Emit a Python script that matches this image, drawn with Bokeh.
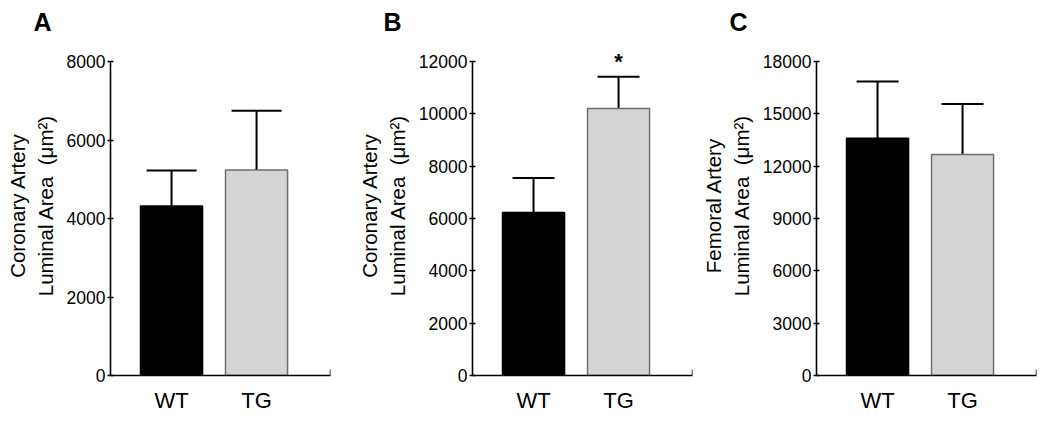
import math
from bokeh.plotting import figure
from bokeh.models import (Range1d, FixedTicker, Whisker, TeeHead, Label, Arrow,
                          ColumnDataSource, NumeralTickFormatter)
from bokeh.layouts import row
from bokeh.embed import file_html
from bokeh.resources import INLINE

# ---------------- data ----------------
groups = ["WT", "TG"]
panel_letters = ["A", "B", "C"]
y_titles = ["Coronary Artery\nLuminal Area \u00a0(\u03bcm\u00b2)",
            "Coronary Artery\nLuminal Area \u00a0(\u03bcm\u00b2)",
            "Femoral Artery\nLuminal Area \u00a0(\u03bcm\u00b2)"]

means_a = [4320, 5235]
sd_a = [900, 1510]
means_b = [6230, 10200]
sd_b = [1315, 1220]
means_c = [13600, 12670]
sd_c = [3260, 2900]

ticks_a = [0, 2000, 4000, 6000, 8000]
ticks_b = [0, 2000, 4000, 6000, 8000, 10000, 12000]
ticks_c = [0, 3000, 6000, 9000, 12000, 15000, 18000]

sig_a = ["", ""]
sig_b = ["", "*"]
sig_c = ["", ""]

bar_fill = ["#000000", "#d4d4d4"]
bar_line = ["#000000", "#6e6e6e"]

FONT = "Liberation Sans"
X0, X1 = 0.282, 2.870
FRAME_W, AXIS_H, EXT = 220, 314, 26


def panel(idx, means, sds, ticks, sig, left, right, cap, letter_off):
    xs = [1, 2]
    ymax = ticks[-1]
    ytop = ymax * (AXIS_H + EXT) / AXIS_H
    p = figure(frame_width=FRAME_W, frame_height=AXIS_H + EXT,
               x_range=Range1d(X0, X1), y_range=Range1d(0, ytop),
               output_backend="svg", toolbar_location=None,
               min_border_left=left, min_border_right=right,
               min_border_top=61 - EXT, min_border_bottom=42)
    p.grid.visible = False
    p.outline_line_color = None
    p.background_fill_color = "white"
    p.border_fill_color = "white"

    src = ColumnDataSource(dict(x=xs, mean=means,
                                upper=[m + s for m, s in zip(means, sds)],
                                fill=bar_fill, line=bar_line, label=groups,
                                sig=sig))
    p.vbar(x="x", top="mean", width=0.73, bottom=0, source=src,
           fill_color="fill", line_color="line", line_width=1.5)

    w = Whisker(source=src, base="x", lower="mean", upper="upper",
                dimension="height", line_color="black", line_width=2,
                upper_head=TeeHead(size=cap, line_width=2, line_color="black"),
                lower_head=None)
    p.add_layout(w)

    # x axis
    xa = p.xaxis[0]
    xa.ticker = FixedTicker(ticks=xs)
    xa.major_label_overrides = {x: g for x, g in zip(xs, groups)}
    xa.major_tick_in = 0
    xa.major_tick_out = 0
    xa.minor_tick_line_color = None
    xa.axis_line_width = 1.5
    xa.axis_line_color = "black"
    xa.major_label_text_font = FONT
    xa.major_label_text_font_size = "22px"
    xa.major_label_text_color = "black"
    xa.major_label_standoff = 12

    # y axis
    ya = p.yaxis[0]
    ya.bounds = (0, ymax)
    ya.ticker = FixedTicker(ticks=ticks)
    ya.formatter = NumeralTickFormatter(format="0")
    ya.major_tick_in = 3
    ya.major_tick_out = 3
    ya.major_tick_line_width = 1.5
    ya.major_tick_line_color = "black"
    ya.minor_tick_line_color = None
    ya.axis_line_width = 1.6
    ya.axis_line_color = "black"
    ya.major_label_text_font = FONT
    ya.major_label_text_font_size = "17.5px"
    ya.major_label_text_color = "black"
    ya.major_label_standoff = 2
    ya.axis_label = y_titles[idx]
    ya.axis_label_text_font = FONT
    ya.axis_label_text_font_size = "20.5px"
    ya.axis_label_text_font_style = "normal"
    ya.axis_label_text_color = "black"
    ya.axis_label_standoff = 7

    # end tick on x axis
    p.add_layout(Arrow(x_start=X1, y_start=0, x_end=X1, y_end=ymax * 6 / AXIS_H,
                       start=None, end=None, line_width=1.5, line_color="black"))

    # panel letter
    p.title.text = panel_letters[idx]
    p.title.align = "left"
    p.title.offset = letter_off
    p.title.standoff = 0
    p.title.text_font = FONT
    p.title.text_font_style = "bold"
    p.title.text_font_size = "25px"
    p.title.text_color = "black"

    # significance markers
    for x, u, s in zip(xs, src.data["upper"], sig):
        if s:
            p.add_layout(Label(x=x, y=u, y_offset=15, text=s,
                               text_align="center", text_baseline="alphabetic",
                               text_font=FONT, text_font_size="22px",
                               text_font_style="bold", text_color="black"))
    return p


pa = panel(0, means_a, sd_a, ticks_a, sig_a, 110, 23, 50, -77)
pb = panel(1, means_b, sd_b, ticks_b, sig_b, 119, 6, 42, -89)
pc = panel(2, means_c, sd_c, ticks_c, sig_c, 118, 6, 42, -87)

layout = row(pa, pb, pc)
open("out.html", "w").write(file_html(layout, INLINE))
